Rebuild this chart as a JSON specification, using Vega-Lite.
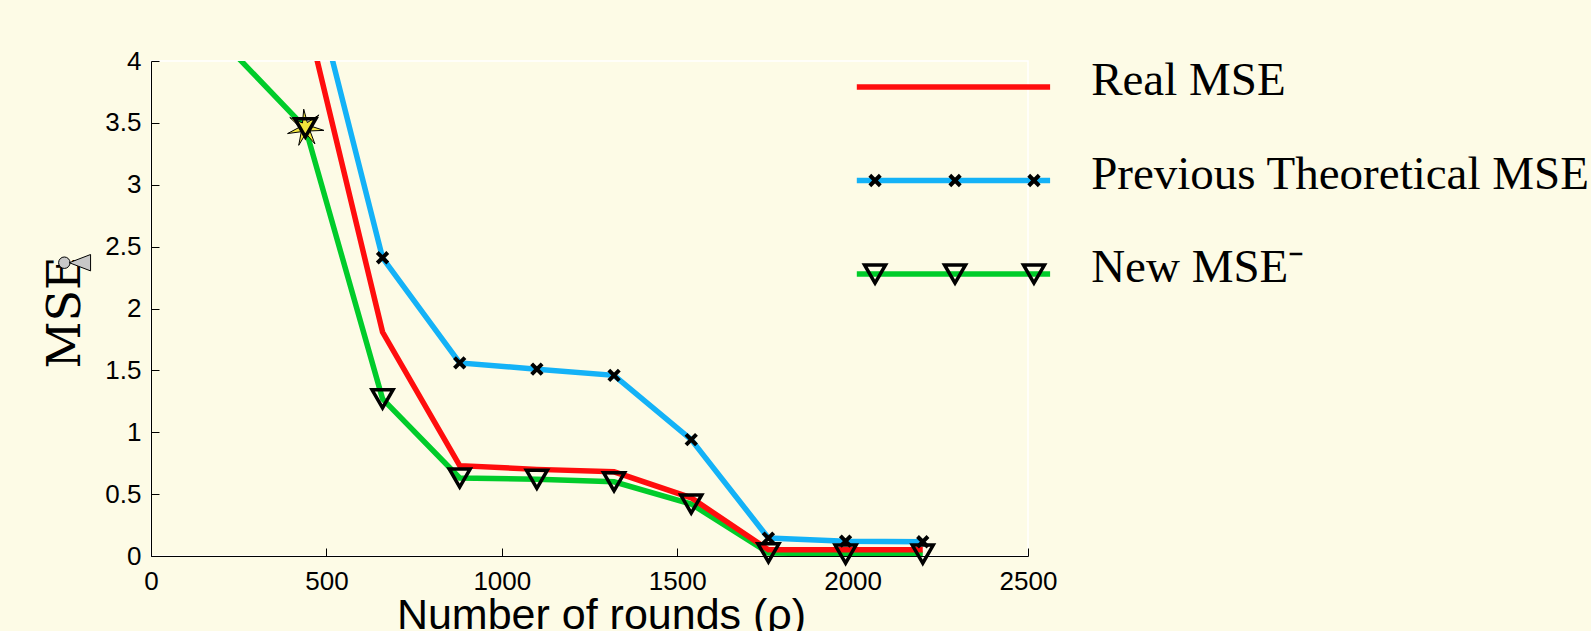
{
  "$schema": "https://vega.github.io/schema/vega-lite/v6.json",
  "width": 877,
  "height": 495,
  "autosize": {"type": "none"},
  "padding": {"left": 151, "top": 61, "right": 563, "bottom": 75},
  "background": "#fdfbe6",
  "config": {
    "view": {"stroke": "white", "strokeWidth": 1.5},
    "axis": {"grid": false, "domainColor": "black", "domainWidth": 1, "tickColor": "black", "tickWidth": 1, "labelColor": "black", "titleColor": "black"}
  },
  "datasets": {
    "mse": [
      {"rounds": 440, "series": "Real MSE", "mse": 4.40},
      {"rounds": 660, "series": "Real MSE", "mse": 1.81},
      {"rounds": 880, "series": "Real MSE", "mse": 0.73},
      {"rounds": 1100, "series": "Real MSE", "mse": 0.70},
      {"rounds": 1320, "series": "Real MSE", "mse": 0.68},
      {"rounds": 1540, "series": "Real MSE", "mse": 0.47},
      {"rounds": 1760, "series": "Real MSE", "mse": 0.05},
      {"rounds": 1980, "series": "Real MSE", "mse": 0.05},
      {"rounds": 2200, "series": "Real MSE", "mse": 0.05},
      {"rounds": 440, "series": "Previous Theoretical MSE", "mse": 4.87},
      {"rounds": 660, "series": "Previous Theoretical MSE", "mse": 2.41},
      {"rounds": 880, "series": "Previous Theoretical MSE", "mse": 1.56},
      {"rounds": 1100, "series": "Previous Theoretical MSE", "mse": 1.51},
      {"rounds": 1320, "series": "Previous Theoretical MSE", "mse": 1.46},
      {"rounds": 1540, "series": "Previous Theoretical MSE", "mse": 0.94},
      {"rounds": 1760, "series": "Previous Theoretical MSE", "mse": 0.145},
      {"rounds": 1980, "series": "Previous Theoretical MSE", "mse": 0.12},
      {"rounds": 2200, "series": "Previous Theoretical MSE", "mse": 0.115},
      {"rounds": 220, "series": "New MSE", "mse": 4.11},
      {"rounds": 440, "series": "New MSE", "mse": 3.46},
      {"rounds": 660, "series": "New MSE", "mse": 1.27},
      {"rounds": 880, "series": "New MSE", "mse": 0.63},
      {"rounds": 1100, "series": "New MSE", "mse": 0.62},
      {"rounds": 1320, "series": "New MSE", "mse": 0.60},
      {"rounds": 1540, "series": "New MSE", "mse": 0.42},
      {"rounds": 1760, "series": "New MSE", "mse": 0.025},
      {"rounds": 1980, "series": "New MSE", "mse": 0.015},
      {"rounds": 2200, "series": "New MSE", "mse": 0.015}
    ],
    "legend": [
      {"series": "Real MSE", "label": "Real MSE"},
      {"series": "Previous Theoretical MSE", "label": "Previous Theoretical MSE"},
      {"series": "New MSE", "label": "New MSE⁻"}
    ]
  },
  "resolve": {"scale": {"y": "independent"}},
  "layer": [
    {
      "data": {"name": "mse"},
      "encoding": {
        "x": {
          "field": "rounds", "type": "quantitative",
          "scale": {"domain": [0, 2500], "nice": false, "zero": false},
          "axis": {
            "values": [0, 500, 1000, 1500, 2000, 2500], "format": "d",
            "tickSize": -8, "labelPadding": 20,
            "labelFont": "Liberation Sans", "labelFontSize": 26, "labelFlush": false,
            "title": "Number of rounds (ρ)",
            "titleFont": "Liberation Sans", "titleFontSize": 43, "titleFontWeight": "normal",
            "titleX": 450, "titleY": 72, "titleBaseline": "alphabetic", "titleAlign": "center"
          }
        },
        "y": {
          "field": "mse", "type": "quantitative",
          "scale": {"domain": [0, 4], "nice": false, "zero": false},
          "axis": {
            "values": [0, 0.5, 1, 1.5, 2, 2.5, 3, 3.5, 4], "format": "~g",
            "tickSize": -8, "labelPadding": 18,
            "labelFont": "Liberation Sans", "labelFontSize": 26, "labelFlush": false,
            "title": "MSE",
            "titleFont": "DejaVu Serif", "titleFontSize": 46, "titleFontWeight": "normal",
            "titleAngle": -90, "titleX": -72, "titleY": 251, "titleBaseline": "alphabetic", "titleAlign": "center"
          }
        },
        "color": {
          "field": "series", "type": "nominal",
          "scale": {"domain": ["Real MSE", "Previous Theoretical MSE", "New MSE"], "range": ["#ff0d0d", "#14b2f7", "#00cc2a"]},
          "legend": null
        }
      },
      "layer": [
        {
          "transform": [{"filter": "datum.series === 'New MSE'"}],
          "mark": {"type": "line", "strokeWidth": 5.5, "clip": true}
        },
        {
          "transform": [{"filter": "datum.series === 'Real MSE'"}],
          "mark": {"type": "line", "strokeWidth": 5.5, "clip": true}
        },
        {
          "transform": [{"filter": "datum.series === 'Previous Theoretical MSE'"}],
          "mark": {"type": "line", "strokeWidth": 5.5, "clip": true}
        },
        {
          "transform": [{"filter": "datum.series === 'Previous Theoretical MSE' && datum.mse <= 4"}],
          "mark": {"type": "point", "shape": "M-1,-1L1,1M-1,1L1,-1", "filled": false, "stroke": "black", "strokeWidth": 4, "size": 110, "opacity": 1}
        },
        {
          "transform": [{"filter": "datum.series === 'New MSE' && datum.rounds === 440"}],
          "mark": {"type": "point", "shape": "M-0.087,-0.996L0.106,-0.281L0.724,-0.690L0.286,-0.092L0.991,0.137L0.250,0.166L0.511,0.860L0.026,0.299L-0.354,0.935L-0.217,0.207L-0.952,0.307L-0.297,-0.041L-0.833,-0.553L-0.153,-0.258Z", "filled": true, "fill": "#f2e63c", "stroke": "black", "strokeWidth": 1, "size": 1400, "opacity": 1}
        },
        {
          "transform": [{"filter": "datum.series === 'New MSE' && datum.mse <= 4"}],
          "mark": {"type": "point", "shape": "triangle-down", "filled": false, "stroke": "black", "strokeWidth": 3.5, "size": 440, "opacity": 1}
        },
        {
          "transform": [{"filter": "datum.series === 'Real MSE' && datum.rounds === 440"}],
          "mark": {"type": "point", "shape": "M-0.3,0L1,-0.5L1,0.5Z M-0.95,0A0.35,0.35 0 1,0 -0.25,0A0.35,0.35 0 1,0 -0.95,0Z", "filled": true, "fill": "#c8c8c8", "stroke": "black", "strokeWidth": 1, "size": 1076, "opacity": 1, "clip": false},
          "encoding": {
            "x": {"datum": -219},
            "y": {"datum": 2.37},
            "color": {"value": "#c8c8c8"}
          }
        }
      ]
    },
    {
      "data": {"name": "legend"},
      "encoding": {
        "y": {
          "field": "series", "type": "nominal",
          "scale": {"type": "point", "domain": ["Real MSE", "Previous Theoretical MSE", "New MSE"], "range": [26, 213], "padding": 0},
          "axis": null
        }
      },
      "layer": [
        {
          "mark": {"type": "rule", "strokeWidth": 5.5, "clip": false},
          "encoding": {
            "x": {"datum": 2012},
            "x2": {"datum": 2563},
            "color": {"field": "series", "type": "nominal", "legend": null}
          }
        },
        {
          "transform": [{"filter": "datum.series === 'Previous Theoretical MSE'"}],
          "layer": [
            {"mark": {"type": "point", "shape": "M-1,-1L1,1M-1,1L1,-1", "filled": false, "stroke": "black", "strokeWidth": 4, "size": 110, "opacity": 1, "clip": false}, "encoding": {"x": {"datum": 2064}}},
            {"mark": {"type": "point", "shape": "M-1,-1L1,1M-1,1L1,-1", "filled": false, "stroke": "black", "strokeWidth": 4, "size": 110, "opacity": 1, "clip": false}, "encoding": {"x": {"datum": 2292}}},
            {"mark": {"type": "point", "shape": "M-1,-1L1,1M-1,1L1,-1", "filled": false, "stroke": "black", "strokeWidth": 4, "size": 110, "opacity": 1, "clip": false}, "encoding": {"x": {"datum": 2517}}}
          ]
        },
        {
          "transform": [{"filter": "datum.series === 'New MSE'"}],
          "layer": [
            {"mark": {"type": "point", "shape": "triangle-down", "filled": false, "stroke": "black", "strokeWidth": 3.5, "size": 440, "opacity": 1, "clip": false}, "encoding": {"x": {"datum": 2064}}},
            {"mark": {"type": "point", "shape": "triangle-down", "filled": false, "stroke": "black", "strokeWidth": 3.5, "size": 440, "opacity": 1, "clip": false}, "encoding": {"x": {"datum": 2292}}},
            {"mark": {"type": "point", "shape": "triangle-down", "filled": false, "stroke": "black", "strokeWidth": 3.5, "size": 440, "opacity": 1, "clip": false}, "encoding": {"x": {"datum": 2517}}}
          ]
        },
        {
          "mark": {"type": "text", "align": "left", "baseline": "alphabetic", "dy": 8, "font": "Liberation Serif", "fontSize": 47, "color": "black", "clip": false},
          "encoding": {
            "x": {"datum": 2680},
            "text": {"field": "label", "type": "nominal"}
          }
        }
      ]
    }
  ]
}
